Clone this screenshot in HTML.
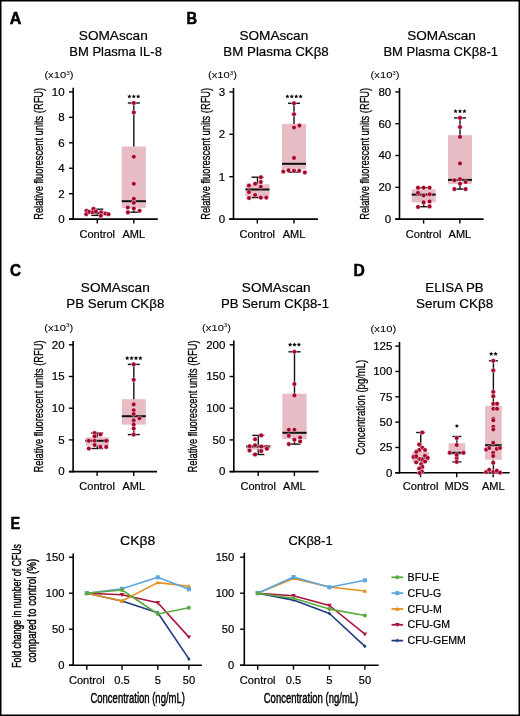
<!DOCTYPE html>
<html><head><meta charset="utf-8"><style>
html,body{margin:0;padding:0;background:#fff;width:520px;height:716px;overflow:hidden}
svg{will-change:transform}
text{font-family:"Liberation Sans", sans-serif;fill:#000;stroke:#000;stroke-width:0.2px}
</style></head><body>
<svg width="520" height="716" viewBox="0 0 520 716" style="display:block" font-family='"Liberation Sans", sans-serif'>
<rect x="0" y="0" width="520" height="716" fill="#fff"/>
<text x="9.8" y="23.5" font-size="15.6" text-anchor="start" style="stroke-width:0.5px" font-weight="bold" textLength="11.6" lengthAdjust="spacingAndGlyphs">A</text>
<text x="186.6" y="23.5" font-size="15.6" text-anchor="start" style="stroke-width:0.5px" font-weight="bold" textLength="10.6" lengthAdjust="spacingAndGlyphs">B</text>
<text x="10.0" y="276.2" font-size="15.6" text-anchor="start" style="stroke-width:0.5px" font-weight="bold" textLength="11.0" lengthAdjust="spacingAndGlyphs">C</text>
<text x="353.4" y="275.8" font-size="15.6" text-anchor="start" style="stroke-width:0.5px" font-weight="bold" textLength="11.3" lengthAdjust="spacingAndGlyphs">D</text>
<text x="10.5" y="528.5" font-size="15.6" text-anchor="start" style="stroke-width:0.5px" font-weight="bold" textLength="9.6" lengthAdjust="spacingAndGlyphs">E</text>
<text x="78.8" y="40.1" font-size="13" text-anchor="start" textLength="69.0" lengthAdjust="spacingAndGlyphs">SOMAscan</text>
<text x="69.3" y="56.1" font-size="13" text-anchor="start" textLength="92.6" lengthAdjust="spacingAndGlyphs">BM Plasma IL-8</text>
<text x="44.4" y="78.2" font-size="9.8" text-anchor="start" style="stroke-width:0.05px" textLength="29.0" lengthAdjust="spacingAndGlyphs">(x10<tspan dy="-3.6" font-size="5.5" style="stroke-width:0">3</tspan><tspan dy="3.6">)</tspan></text>
<text transform="translate(42.9,153.8) rotate(-90)" x="0" y="0" font-size="13" text-anchor="middle" style="stroke-width:0.3px" textLength="132" lengthAdjust="spacingAndGlyphs">Relative fluorescent units (RFU)</text>
<line x1="73.2" y1="87.8" x2="73.2" y2="219.85" stroke="#000" stroke-width="1.6" />
<line x1="69.0" y1="219.1" x2="157.8" y2="219.1" stroke="#000" stroke-width="1.6" />
<line x1="69.0" y1="91.9" x2="73.2" y2="91.9" stroke="#000" stroke-width="1.4" />
<text x="64.6" y="95.7" font-size="11.5" text-anchor="end">10</text>
<line x1="69.0" y1="117.35" x2="73.2" y2="117.35" stroke="#000" stroke-width="1.4" />
<text x="64.6" y="121.14999999999999" font-size="11.5" text-anchor="end">8</text>
<line x1="69.0" y1="142.8" x2="73.2" y2="142.8" stroke="#000" stroke-width="1.4" />
<text x="64.6" y="146.60000000000002" font-size="11.5" text-anchor="end">6</text>
<line x1="69.0" y1="168.25" x2="73.2" y2="168.25" stroke="#000" stroke-width="1.4" />
<text x="64.6" y="172.05" font-size="11.5" text-anchor="end">4</text>
<line x1="69.0" y1="193.7" x2="73.2" y2="193.7" stroke="#000" stroke-width="1.4" />
<text x="64.6" y="197.5" font-size="11.5" text-anchor="end">2</text>
<line x1="69.0" y1="219.1" x2="73.2" y2="219.1" stroke="#000" stroke-width="1.4" />
<text x="64.6" y="222.9" font-size="11.5" text-anchor="end">0</text>
<line x1="97.3" y1="219.1" x2="97.3" y2="223.6" stroke="#000" stroke-width="1.4" />
<text x="97.3" y="237.8" font-size="11" text-anchor="middle">Control</text>
<line x1="133.8" y1="219.1" x2="133.8" y2="223.6" stroke="#000" stroke-width="1.4" />
<text x="133.8" y="237.8" font-size="11" text-anchor="middle">AML</text>
<rect x="91.3" y="211.5" width="12" height="3.0" fill="#e7bcc5"/>
<line x1="97.3" y1="209.2" x2="97.3" y2="211.5" stroke="#111" stroke-width="1.4" />
<line x1="97.3" y1="214.5" x2="97.3" y2="215.4" stroke="#111" stroke-width="1.4" />
<line x1="91.3" y1="209.2" x2="103.3" y2="209.2" stroke="#111" stroke-width="1.4" />
<line x1="91.3" y1="215.4" x2="103.3" y2="215.4" stroke="#111" stroke-width="1.4" />
<line x1="91.3" y1="213.0" x2="103.3" y2="213.0" stroke="#111" stroke-width="2.0" />
<circle cx="86.5" cy="210.8" r="2.3" fill="#a8002a" stroke="#fff" stroke-opacity="0.55" stroke-width="0.8"/>
<circle cx="86.2" cy="214.2" r="2.3" fill="#a8002a" stroke="#fff" stroke-opacity="0.55" stroke-width="0.8"/>
<circle cx="89.2" cy="211.9" r="2.3" fill="#a8002a" stroke="#fff" stroke-opacity="0.55" stroke-width="0.8"/>
<circle cx="93.5" cy="208.8" r="2.3" fill="#a8002a" stroke="#fff" stroke-opacity="0.55" stroke-width="0.8"/>
<circle cx="92.7" cy="212.3" r="2.3" fill="#a8002a" stroke="#fff" stroke-opacity="0.55" stroke-width="0.8"/>
<circle cx="95.8" cy="211.5" r="2.3" fill="#a8002a" stroke="#fff" stroke-opacity="0.55" stroke-width="0.8"/>
<circle cx="101.2" cy="212.3" r="2.3" fill="#a8002a" stroke="#fff" stroke-opacity="0.55" stroke-width="0.8"/>
<circle cx="100.8" cy="215.8" r="2.3" fill="#a8002a" stroke="#fff" stroke-opacity="0.55" stroke-width="0.8"/>
<circle cx="105.4" cy="213.5" r="2.3" fill="#a8002a" stroke="#fff" stroke-opacity="0.55" stroke-width="0.8"/>
<circle cx="108.5" cy="214.2" r="2.3" fill="#a8002a" stroke="#fff" stroke-opacity="0.55" stroke-width="0.8"/>
<rect x="121.70000000000002" y="146.5" width="24.2" height="61.400000000000006" fill="#e7bcc5"/>
<line x1="133.8" y1="103.0" x2="133.8" y2="146.5" stroke="#111" stroke-width="1.4" />
<line x1="133.8" y1="207.9" x2="133.8" y2="212.2" stroke="#111" stroke-width="1.4" />
<line x1="127.80000000000001" y1="103.0" x2="139.8" y2="103.0" stroke="#111" stroke-width="1.4" />
<line x1="127.80000000000001" y1="212.2" x2="139.8" y2="212.2" stroke="#111" stroke-width="1.4" />
<line x1="121.70000000000002" y1="201.2" x2="145.9" y2="201.2" stroke="#111" stroke-width="2.0" />
<circle cx="133.8" cy="103" r="2.3" fill="#a8002a" stroke="#fff" stroke-opacity="0.55" stroke-width="0.8"/>
<circle cx="133.8" cy="112.4" r="2.3" fill="#a8002a" stroke="#fff" stroke-opacity="0.55" stroke-width="0.8"/>
<circle cx="133.8" cy="156.7" r="2.3" fill="#a8002a" stroke="#fff" stroke-opacity="0.55" stroke-width="0.8"/>
<circle cx="133.8" cy="183.8" r="2.3" fill="#a8002a" stroke="#fff" stroke-opacity="0.55" stroke-width="0.8"/>
<circle cx="133.8" cy="198.8" r="2.3" fill="#a8002a" stroke="#fff" stroke-opacity="0.55" stroke-width="0.8"/>
<circle cx="133.8" cy="202.8" r="2.3" fill="#a8002a" stroke="#fff" stroke-opacity="0.55" stroke-width="0.8"/>
<circle cx="127.8" cy="207.5" r="2.3" fill="#a8002a" stroke="#fff" stroke-opacity="0.55" stroke-width="0.8"/>
<circle cx="133.8" cy="208.5" r="2.3" fill="#a8002a" stroke="#fff" stroke-opacity="0.55" stroke-width="0.8"/>
<circle cx="139.6" cy="210.7" r="2.3" fill="#a8002a" stroke="#fff" stroke-opacity="0.55" stroke-width="0.8"/>
<circle cx="127.9" cy="212.4" r="2.3" fill="#a8002a" stroke="#fff" stroke-opacity="0.55" stroke-width="0.8"/>
<polygon points="129.40,94.20 130.02,95.65 131.59,95.79 130.40,96.82 130.75,98.36 129.40,97.55 128.05,98.36 128.40,96.82 127.21,95.79 128.78,95.65" fill="#000"/>
<polygon points="133.80,94.20 134.42,95.65 135.99,95.79 134.80,96.82 135.15,98.36 133.80,97.55 132.45,98.36 132.80,96.82 131.61,95.79 133.18,95.65" fill="#000"/>
<polygon points="138.20,94.20 138.82,95.65 140.39,95.79 139.20,96.82 139.55,98.36 138.20,97.55 136.85,98.36 137.20,96.82 136.01,95.79 137.58,95.65" fill="#000"/>
<text x="239.45" y="40.0" font-size="13" text-anchor="start" textLength="68.8" lengthAdjust="spacingAndGlyphs">SOMAscan</text>
<text x="223.3" y="56.1" font-size="13" text-anchor="start" textLength="105.5" lengthAdjust="spacingAndGlyphs">BM Plasma CKβ8</text>
<text x="208.0" y="78.2" font-size="9.8" text-anchor="start" style="stroke-width:0.05px" textLength="29.0" lengthAdjust="spacingAndGlyphs">(x10<tspan dy="-3.6" font-size="5.5" style="stroke-width:0">3</tspan><tspan dy="3.6">)</tspan></text>
<text transform="translate(209.9,153.8) rotate(-90)" x="0" y="0" font-size="13" text-anchor="middle" style="stroke-width:0.3px" textLength="132" lengthAdjust="spacingAndGlyphs">Relative fluorescent units (RFU)</text>
<line x1="233.5" y1="87.9" x2="233.5" y2="219.85" stroke="#000" stroke-width="1.6" />
<line x1="229.3" y1="219.1" x2="317.9" y2="219.1" stroke="#000" stroke-width="1.6" />
<line x1="229.3" y1="91.9" x2="233.5" y2="91.9" stroke="#000" stroke-width="1.4" />
<text x="225.2" y="95.7" font-size="11.5" text-anchor="end">3</text>
<line x1="229.3" y1="134.3" x2="233.5" y2="134.3" stroke="#000" stroke-width="1.4" />
<text x="225.2" y="138.10000000000002" font-size="11.5" text-anchor="end">2</text>
<line x1="229.3" y1="176.7" x2="233.5" y2="176.7" stroke="#000" stroke-width="1.4" />
<text x="225.2" y="180.5" font-size="11.5" text-anchor="end">1</text>
<line x1="229.3" y1="219.1" x2="233.5" y2="219.1" stroke="#000" stroke-width="1.4" />
<text x="225.2" y="222.9" font-size="11.5" text-anchor="end">0</text>
<line x1="257.3" y1="219.1" x2="257.3" y2="223.6" stroke="#000" stroke-width="1.4" />
<text x="257.3" y="237.6" font-size="11" text-anchor="middle">Control</text>
<line x1="294.0" y1="219.1" x2="294.0" y2="223.6" stroke="#000" stroke-width="1.4" />
<text x="294.0" y="237.6" font-size="11" text-anchor="middle">AML</text>
<rect x="245.5" y="184.3" width="24" height="12.399999999999977" fill="#e7bcc5"/>
<line x1="257.5" y1="177.2" x2="257.5" y2="184.3" stroke="#111" stroke-width="1.4" />
<line x1="257.5" y1="196.7" x2="257.5" y2="197.6" stroke="#111" stroke-width="1.4" />
<line x1="251.5" y1="177.2" x2="263.5" y2="177.2" stroke="#111" stroke-width="1.4" />
<line x1="251.5" y1="197.6" x2="263.5" y2="197.6" stroke="#111" stroke-width="1.4" />
<line x1="245.5" y1="189.5" x2="269.5" y2="189.5" stroke="#111" stroke-width="2.0" />
<circle cx="260.8" cy="177.2" r="2.3" fill="#a8002a" stroke="#fff" stroke-opacity="0.55" stroke-width="0.8"/>
<circle cx="255.1" cy="183.7" r="2.3" fill="#a8002a" stroke="#fff" stroke-opacity="0.55" stroke-width="0.8"/>
<circle cx="260.8" cy="182" r="2.3" fill="#a8002a" stroke="#fff" stroke-opacity="0.55" stroke-width="0.8"/>
<circle cx="249" cy="185.5" r="2.3" fill="#a8002a" stroke="#fff" stroke-opacity="0.55" stroke-width="0.8"/>
<circle cx="260.8" cy="186.7" r="2.3" fill="#a8002a" stroke="#fff" stroke-opacity="0.55" stroke-width="0.8"/>
<circle cx="249" cy="192" r="2.3" fill="#a8002a" stroke="#fff" stroke-opacity="0.55" stroke-width="0.8"/>
<circle cx="255.1" cy="195" r="2.3" fill="#a8002a" stroke="#fff" stroke-opacity="0.55" stroke-width="0.8"/>
<circle cx="249" cy="198" r="2.3" fill="#a8002a" stroke="#fff" stroke-opacity="0.55" stroke-width="0.8"/>
<circle cx="260.8" cy="197.6" r="2.3" fill="#a8002a" stroke="#fff" stroke-opacity="0.55" stroke-width="0.8"/>
<circle cx="266.3" cy="197.6" r="2.3" fill="#a8002a" stroke="#fff" stroke-opacity="0.55" stroke-width="0.8"/>
<rect x="282.0" y="123.9" width="24" height="45.099999999999994" fill="#e7bcc5"/>
<line x1="294.0" y1="103.3" x2="294.0" y2="123.9" stroke="#111" stroke-width="1.4" />
<line x1="294.0" y1="169.0" x2="294.0" y2="172.2" stroke="#111" stroke-width="1.4" />
<line x1="288.0" y1="103.3" x2="300.0" y2="103.3" stroke="#111" stroke-width="1.4" />
<line x1="288.0" y1="172.2" x2="300.0" y2="172.2" stroke="#111" stroke-width="1.4" />
<line x1="282.0" y1="163.8" x2="306.0" y2="163.8" stroke="#111" stroke-width="2.0" />
<circle cx="294" cy="103.3" r="2.3" fill="#a8002a" stroke="#fff" stroke-opacity="0.55" stroke-width="0.8"/>
<circle cx="294" cy="114.2" r="2.3" fill="#a8002a" stroke="#fff" stroke-opacity="0.55" stroke-width="0.8"/>
<circle cx="294" cy="127.5" r="2.3" fill="#a8002a" stroke="#fff" stroke-opacity="0.55" stroke-width="0.8"/>
<circle cx="299.4" cy="125.6" r="2.3" fill="#a8002a" stroke="#fff" stroke-opacity="0.55" stroke-width="0.8"/>
<circle cx="294" cy="157.9" r="2.3" fill="#a8002a" stroke="#fff" stroke-opacity="0.55" stroke-width="0.8"/>
<circle cx="283.3" cy="171.6" r="2.3" fill="#a8002a" stroke="#fff" stroke-opacity="0.55" stroke-width="0.8"/>
<circle cx="288.5" cy="170.2" r="2.3" fill="#a8002a" stroke="#fff" stroke-opacity="0.55" stroke-width="0.8"/>
<circle cx="294" cy="170.8" r="2.3" fill="#a8002a" stroke="#fff" stroke-opacity="0.55" stroke-width="0.8"/>
<circle cx="299.2" cy="170.8" r="2.3" fill="#a8002a" stroke="#fff" stroke-opacity="0.55" stroke-width="0.8"/>
<circle cx="304.8" cy="172.5" r="2.3" fill="#a8002a" stroke="#fff" stroke-opacity="0.55" stroke-width="0.8"/>
<polygon points="287.40,94.20 288.02,95.65 289.59,95.79 288.40,96.82 288.75,98.36 287.40,97.55 286.05,98.36 286.40,96.82 285.21,95.79 286.78,95.65" fill="#000"/>
<polygon points="291.80,94.20 292.42,95.65 293.99,95.79 292.80,96.82 293.15,98.36 291.80,97.55 290.45,98.36 290.80,96.82 289.61,95.79 291.18,95.65" fill="#000"/>
<polygon points="296.20,94.20 296.82,95.65 298.39,95.79 297.20,96.82 297.55,98.36 296.20,97.55 294.85,98.36 295.20,96.82 294.01,95.79 295.58,95.65" fill="#000"/>
<polygon points="300.60,94.20 301.22,95.65 302.79,95.79 301.60,96.82 301.95,98.36 300.60,97.55 299.25,98.36 299.60,96.82 298.41,95.79 299.98,95.65" fill="#000"/>
<text x="407.25" y="40.0" font-size="13" text-anchor="start" textLength="68.6" lengthAdjust="spacingAndGlyphs">SOMAscan</text>
<text x="383.4" y="56.1" font-size="13" text-anchor="start" textLength="114.6" lengthAdjust="spacingAndGlyphs">BM Plasma CKβ8-1</text>
<text x="370.59999999999997" y="78.2" font-size="9.8" text-anchor="start" style="stroke-width:0.05px" textLength="29.0" lengthAdjust="spacingAndGlyphs">(x10<tspan dy="-3.6" font-size="5.5" style="stroke-width:0">3</tspan><tspan dy="3.6">)</tspan></text>
<text transform="translate(369.1,153.8) rotate(-90)" x="0" y="0" font-size="13" text-anchor="middle" style="stroke-width:0.3px" textLength="132" lengthAdjust="spacingAndGlyphs">Relative fluorescent units (RFU)</text>
<line x1="399.5" y1="87.9" x2="399.5" y2="219.85" stroke="#000" stroke-width="1.6" />
<line x1="395.3" y1="219.1" x2="483.6" y2="219.1" stroke="#000" stroke-width="1.6" />
<line x1="395.3" y1="91.9" x2="399.5" y2="91.9" stroke="#000" stroke-width="1.4" />
<text x="391.2" y="95.7" font-size="11.5" text-anchor="end">80</text>
<line x1="395.3" y1="123.7" x2="399.5" y2="123.7" stroke="#000" stroke-width="1.4" />
<text x="391.2" y="127.5" font-size="11.5" text-anchor="end">60</text>
<line x1="395.3" y1="155.5" x2="399.5" y2="155.5" stroke="#000" stroke-width="1.4" />
<text x="391.2" y="159.3" font-size="11.5" text-anchor="end">40</text>
<line x1="395.3" y1="187.3" x2="399.5" y2="187.3" stroke="#000" stroke-width="1.4" />
<text x="391.2" y="191.10000000000002" font-size="11.5" text-anchor="end">20</text>
<line x1="395.3" y1="219.1" x2="399.5" y2="219.1" stroke="#000" stroke-width="1.4" />
<text x="391.2" y="222.9" font-size="11.5" text-anchor="end">0</text>
<line x1="423.6" y1="219.1" x2="423.6" y2="223.6" stroke="#000" stroke-width="1.4" />
<text x="423.6" y="237.5" font-size="11" text-anchor="middle">Control</text>
<line x1="459.9" y1="219.1" x2="459.9" y2="223.6" stroke="#000" stroke-width="1.4" />
<text x="459.9" y="237.5" font-size="11" text-anchor="middle">AML</text>
<rect x="411.7" y="189.4" width="24" height="13.0" fill="#e7bcc5"/>
<line x1="423.7" y1="187.7" x2="423.7" y2="189.4" stroke="#111" stroke-width="1.4" />
<line x1="423.7" y1="202.4" x2="423.7" y2="206.7" stroke="#111" stroke-width="1.4" />
<line x1="417.7" y1="187.7" x2="429.7" y2="187.7" stroke="#111" stroke-width="1.4" />
<line x1="417.7" y1="206.7" x2="429.7" y2="206.7" stroke="#111" stroke-width="1.4" />
<line x1="411.7" y1="194.6" x2="435.7" y2="194.6" stroke="#111" stroke-width="2.0" />
<circle cx="418" cy="187.7" r="2.3" fill="#a8002a" stroke="#fff" stroke-opacity="0.55" stroke-width="0.8"/>
<circle cx="423.6" cy="187.7" r="2.3" fill="#a8002a" stroke="#fff" stroke-opacity="0.55" stroke-width="0.8"/>
<circle cx="429.6" cy="187.7" r="2.3" fill="#a8002a" stroke="#fff" stroke-opacity="0.55" stroke-width="0.8"/>
<circle cx="418" cy="192.9" r="2.3" fill="#a8002a" stroke="#fff" stroke-opacity="0.55" stroke-width="0.8"/>
<circle cx="423.6" cy="195.5" r="2.3" fill="#a8002a" stroke="#fff" stroke-opacity="0.55" stroke-width="0.8"/>
<circle cx="429.6" cy="194.3" r="2.3" fill="#a8002a" stroke="#fff" stroke-opacity="0.55" stroke-width="0.8"/>
<circle cx="423.6" cy="202.4" r="2.3" fill="#a8002a" stroke="#fff" stroke-opacity="0.55" stroke-width="0.8"/>
<circle cx="429.6" cy="201.5" r="2.3" fill="#a8002a" stroke="#fff" stroke-opacity="0.55" stroke-width="0.8"/>
<circle cx="418" cy="207" r="2.3" fill="#a8002a" stroke="#fff" stroke-opacity="0.55" stroke-width="0.8"/>
<circle cx="429.6" cy="206.4" r="2.3" fill="#a8002a" stroke="#fff" stroke-opacity="0.55" stroke-width="0.8"/>
<rect x="448.0" y="135.2" width="24" height="48.70000000000002" fill="#e7bcc5"/>
<line x1="460.0" y1="117.9" x2="460.0" y2="135.2" stroke="#111" stroke-width="1.4" />
<line x1="460.0" y1="183.9" x2="460.0" y2="189.1" stroke="#111" stroke-width="1.4" />
<line x1="454.0" y1="117.9" x2="466.0" y2="117.9" stroke="#111" stroke-width="1.4" />
<line x1="454.0" y1="189.1" x2="466.0" y2="189.1" stroke="#111" stroke-width="1.4" />
<line x1="448.0" y1="179.9" x2="472.0" y2="179.9" stroke="#111" stroke-width="2.0" />
<circle cx="460" cy="117.9" r="2.3" fill="#a8002a" stroke="#fff" stroke-opacity="0.55" stroke-width="0.8"/>
<circle cx="460" cy="127" r="2.3" fill="#a8002a" stroke="#fff" stroke-opacity="0.55" stroke-width="0.8"/>
<circle cx="460" cy="136.9" r="2.3" fill="#a8002a" stroke="#fff" stroke-opacity="0.55" stroke-width="0.8"/>
<circle cx="460" cy="163.4" r="2.3" fill="#a8002a" stroke="#fff" stroke-opacity="0.55" stroke-width="0.8"/>
<circle cx="454.4" cy="180.2" r="2.3" fill="#a8002a" stroke="#fff" stroke-opacity="0.55" stroke-width="0.8"/>
<circle cx="460" cy="179" r="2.3" fill="#a8002a" stroke="#fff" stroke-opacity="0.55" stroke-width="0.8"/>
<circle cx="465.6" cy="182" r="2.3" fill="#a8002a" stroke="#fff" stroke-opacity="0.55" stroke-width="0.8"/>
<circle cx="460" cy="183.7" r="2.3" fill="#a8002a" stroke="#fff" stroke-opacity="0.55" stroke-width="0.8"/>
<circle cx="454.4" cy="189.1" r="2.3" fill="#a8002a" stroke="#fff" stroke-opacity="0.55" stroke-width="0.8"/>
<circle cx="465.6" cy="189.1" r="2.3" fill="#a8002a" stroke="#fff" stroke-opacity="0.55" stroke-width="0.8"/>
<polygon points="455.60,109.00 456.22,110.45 457.79,110.59 456.60,111.62 456.95,113.16 455.60,112.35 454.25,113.16 454.60,111.62 453.41,110.59 454.98,110.45" fill="#000"/>
<polygon points="460.00,109.00 460.62,110.45 462.19,110.59 461.00,111.62 461.35,113.16 460.00,112.35 458.65,113.16 459.00,111.62 457.81,110.59 459.38,110.45" fill="#000"/>
<polygon points="464.40,109.00 465.02,110.45 466.59,110.59 465.40,111.62 465.75,113.16 464.40,112.35 463.05,113.16 463.40,111.62 462.21,110.59 463.78,110.45" fill="#000"/>
<text x="80.85" y="292.2" font-size="13" text-anchor="start" textLength="68.9" lengthAdjust="spacingAndGlyphs">SOMAscan</text>
<text x="66.3" y="308.3" font-size="13" text-anchor="start" textLength="98.0" lengthAdjust="spacingAndGlyphs">PB Serum CKβ8</text>
<text x="44.199999999999996" y="331.0" font-size="9.8" text-anchor="start" style="stroke-width:0.05px" textLength="29.0" lengthAdjust="spacingAndGlyphs">(x10<tspan dy="-3.6" font-size="5.5" style="stroke-width:0">3</tspan><tspan dy="3.6">)</tspan></text>
<text transform="translate(42.9,406.5) rotate(-90)" x="0" y="0" font-size="13" text-anchor="middle" style="stroke-width:0.3px" textLength="132" lengthAdjust="spacingAndGlyphs">Relative fluorescent units (RFU)</text>
<line x1="73.1" y1="341.0" x2="73.1" y2="472.35" stroke="#000" stroke-width="1.6" />
<line x1="68.89999999999999" y1="471.6" x2="157.0" y2="471.6" stroke="#000" stroke-width="1.6" />
<line x1="68.89999999999999" y1="344.8" x2="73.1" y2="344.8" stroke="#000" stroke-width="1.4" />
<text x="64.6" y="348.6" font-size="11.5" text-anchor="end">20</text>
<line x1="68.89999999999999" y1="376.5" x2="73.1" y2="376.5" stroke="#000" stroke-width="1.4" />
<text x="64.6" y="380.3" font-size="11.5" text-anchor="end">15</text>
<line x1="68.89999999999999" y1="408.2" x2="73.1" y2="408.2" stroke="#000" stroke-width="1.4" />
<text x="64.6" y="412.0" font-size="11.5" text-anchor="end">10</text>
<line x1="68.89999999999999" y1="439.9" x2="73.1" y2="439.9" stroke="#000" stroke-width="1.4" />
<text x="64.6" y="443.7" font-size="11.5" text-anchor="end">5</text>
<line x1="68.89999999999999" y1="471.6" x2="73.1" y2="471.6" stroke="#000" stroke-width="1.4" />
<text x="64.6" y="475.40000000000003" font-size="11.5" text-anchor="end">0</text>
<line x1="97.1" y1="471.6" x2="97.1" y2="476.1" stroke="#000" stroke-width="1.4" />
<text x="97.1" y="489.8" font-size="11" text-anchor="middle">Control</text>
<line x1="133.7" y1="471.6" x2="133.7" y2="476.1" stroke="#000" stroke-width="1.4" />
<text x="133.7" y="489.8" font-size="11" text-anchor="middle">AML</text>
<rect x="85.45" y="437.3" width="23.5" height="8.300000000000011" fill="#e7bcc5"/>
<line x1="97.2" y1="433.1" x2="97.2" y2="437.3" stroke="#111" stroke-width="1.4" />
<line x1="97.2" y1="445.6" x2="97.2" y2="448.5" stroke="#111" stroke-width="1.4" />
<line x1="91.2" y1="433.1" x2="103.2" y2="433.1" stroke="#111" stroke-width="1.4" />
<line x1="91.2" y1="448.5" x2="103.2" y2="448.5" stroke="#111" stroke-width="1.4" />
<line x1="85.45" y1="440.8" x2="108.95" y2="440.8" stroke="#111" stroke-width="2.0" />
<circle cx="94.6" cy="433.1" r="2.3" fill="#a8002a" stroke="#fff" stroke-opacity="0.55" stroke-width="0.8"/>
<circle cx="94.6" cy="436.3" r="2.3" fill="#a8002a" stroke="#fff" stroke-opacity="0.55" stroke-width="0.8"/>
<circle cx="100.4" cy="434.4" r="2.3" fill="#a8002a" stroke="#fff" stroke-opacity="0.55" stroke-width="0.8"/>
<circle cx="88.8" cy="440.8" r="2.3" fill="#a8002a" stroke="#fff" stroke-opacity="0.55" stroke-width="0.8"/>
<circle cx="94.6" cy="440.8" r="2.3" fill="#a8002a" stroke="#fff" stroke-opacity="0.55" stroke-width="0.8"/>
<circle cx="106.2" cy="440.8" r="2.3" fill="#a8002a" stroke="#fff" stroke-opacity="0.55" stroke-width="0.8"/>
<circle cx="94.6" cy="445" r="2.3" fill="#a8002a" stroke="#fff" stroke-opacity="0.55" stroke-width="0.8"/>
<circle cx="100.4" cy="446.9" r="2.3" fill="#a8002a" stroke="#fff" stroke-opacity="0.55" stroke-width="0.8"/>
<circle cx="88.8" cy="448.5" r="2.3" fill="#a8002a" stroke="#fff" stroke-opacity="0.55" stroke-width="0.8"/>
<circle cx="106.2" cy="446.9" r="2.3" fill="#a8002a" stroke="#fff" stroke-opacity="0.55" stroke-width="0.8"/>
<rect x="121.80000000000001" y="399.2" width="24" height="25.400000000000034" fill="#e7bcc5"/>
<line x1="133.8" y1="364.4" x2="133.8" y2="399.2" stroke="#111" stroke-width="1.4" />
<line x1="133.8" y1="424.6" x2="133.8" y2="434.6" stroke="#111" stroke-width="1.4" />
<line x1="127.80000000000001" y1="364.4" x2="139.8" y2="364.4" stroke="#111" stroke-width="1.4" />
<line x1="127.80000000000001" y1="434.6" x2="139.8" y2="434.6" stroke="#111" stroke-width="1.4" />
<line x1="121.80000000000001" y1="416.2" x2="145.8" y2="416.2" stroke="#111" stroke-width="2.0" />
<circle cx="133.7" cy="364.4" r="2.3" fill="#a8002a" stroke="#fff" stroke-opacity="0.55" stroke-width="0.8"/>
<circle cx="133.7" cy="379.8" r="2.3" fill="#a8002a" stroke="#fff" stroke-opacity="0.55" stroke-width="0.8"/>
<circle cx="133.7" cy="404.4" r="2.3" fill="#a8002a" stroke="#fff" stroke-opacity="0.55" stroke-width="0.8"/>
<circle cx="133.7" cy="410.2" r="2.3" fill="#a8002a" stroke="#fff" stroke-opacity="0.55" stroke-width="0.8"/>
<circle cx="133.7" cy="414" r="2.3" fill="#a8002a" stroke="#fff" stroke-opacity="0.55" stroke-width="0.8"/>
<circle cx="133.7" cy="420.4" r="2.3" fill="#a8002a" stroke="#fff" stroke-opacity="0.55" stroke-width="0.8"/>
<circle cx="139.4" cy="418.3" r="2.3" fill="#a8002a" stroke="#fff" stroke-opacity="0.55" stroke-width="0.8"/>
<circle cx="133.7" cy="424.6" r="2.3" fill="#a8002a" stroke="#fff" stroke-opacity="0.55" stroke-width="0.8"/>
<circle cx="133.7" cy="428.5" r="2.3" fill="#a8002a" stroke="#fff" stroke-opacity="0.55" stroke-width="0.8"/>
<circle cx="133.7" cy="434.6" r="2.3" fill="#a8002a" stroke="#fff" stroke-opacity="0.55" stroke-width="0.8"/>
<polygon points="127.20,355.90 127.82,357.35 129.39,357.49 128.20,358.52 128.55,360.06 127.20,359.25 125.85,360.06 126.20,358.52 125.01,357.49 126.58,357.35" fill="#000"/>
<polygon points="131.60,355.90 132.22,357.35 133.79,357.49 132.60,358.52 132.95,360.06 131.60,359.25 130.25,360.06 130.60,358.52 129.41,357.49 130.98,357.35" fill="#000"/>
<polygon points="136.00,355.90 136.62,357.35 138.19,357.49 137.00,358.52 137.35,360.06 136.00,359.25 134.65,360.06 135.00,358.52 133.81,357.49 135.38,357.35" fill="#000"/>
<polygon points="140.40,355.90 141.02,357.35 142.59,357.49 141.40,358.52 141.75,360.06 140.40,359.25 139.05,360.06 139.40,358.52 138.21,357.49 139.78,357.35" fill="#000"/>
<text x="241.85" y="292.2" font-size="13" text-anchor="start" textLength="68.7" lengthAdjust="spacingAndGlyphs">SOMAscan</text>
<text x="221.0" y="308.3" font-size="13" text-anchor="start" textLength="108.0" lengthAdjust="spacingAndGlyphs">PB Serum CKβ8-1</text>
<text x="202.1" y="330.5" font-size="9.8" text-anchor="start" style="stroke-width:0.05px" textLength="29.0" lengthAdjust="spacingAndGlyphs">(x10<tspan dy="-3.6" font-size="5.5" style="stroke-width:0">3</tspan><tspan dy="3.6">)</tspan></text>
<text transform="translate(197.2,406.5) rotate(-90)" x="0" y="0" font-size="13" text-anchor="middle" style="stroke-width:0.3px" textLength="132" lengthAdjust="spacingAndGlyphs">Relative fluorescent units (RFU)</text>
<line x1="233.8" y1="340.6" x2="233.8" y2="472.35" stroke="#000" stroke-width="1.6" />
<line x1="229.60000000000002" y1="471.6" x2="318.6" y2="471.6" stroke="#000" stroke-width="1.6" />
<line x1="229.60000000000002" y1="344.8" x2="233.8" y2="344.8" stroke="#000" stroke-width="1.4" />
<text x="225.4" y="348.6" font-size="11.5" text-anchor="end">200</text>
<line x1="229.60000000000002" y1="376.5" x2="233.8" y2="376.5" stroke="#000" stroke-width="1.4" />
<text x="225.4" y="380.3" font-size="11.5" text-anchor="end">150</text>
<line x1="229.60000000000002" y1="408.2" x2="233.8" y2="408.2" stroke="#000" stroke-width="1.4" />
<text x="225.4" y="412.0" font-size="11.5" text-anchor="end">100</text>
<line x1="229.60000000000002" y1="439.9" x2="233.8" y2="439.9" stroke="#000" stroke-width="1.4" />
<text x="225.4" y="443.7" font-size="11.5" text-anchor="end">50</text>
<line x1="229.60000000000002" y1="471.6" x2="233.8" y2="471.6" stroke="#000" stroke-width="1.4" />
<text x="225.4" y="475.40000000000003" font-size="11.5" text-anchor="end">0</text>
<line x1="258.2" y1="471.6" x2="258.2" y2="476.1" stroke="#000" stroke-width="1.4" />
<text x="258.2" y="490.2" font-size="11" text-anchor="middle">Control</text>
<line x1="294.4" y1="471.6" x2="294.4" y2="476.1" stroke="#000" stroke-width="1.4" />
<text x="294.4" y="490.2" font-size="11" text-anchor="middle">AML</text>
<rect x="246.3" y="444.8" width="24" height="4.800000000000011" fill="#e7bcc5"/>
<line x1="258.3" y1="435.4" x2="258.3" y2="444.8" stroke="#111" stroke-width="1.4" />
<line x1="258.3" y1="449.6" x2="258.3" y2="454.5" stroke="#111" stroke-width="1.4" />
<line x1="252.3" y1="435.4" x2="264.3" y2="435.4" stroke="#111" stroke-width="1.4" />
<line x1="252.3" y1="454.5" x2="264.3" y2="454.5" stroke="#111" stroke-width="1.4" />
<line x1="246.3" y1="446.5" x2="270.3" y2="446.5" stroke="#111" stroke-width="2.0" />
<circle cx="261.2" cy="435.4" r="2.3" fill="#a8002a" stroke="#fff" stroke-opacity="0.55" stroke-width="0.8"/>
<circle cx="255.1" cy="439.2" r="2.3" fill="#a8002a" stroke="#fff" stroke-opacity="0.55" stroke-width="0.8"/>
<circle cx="249.6" cy="446.2" r="2.3" fill="#a8002a" stroke="#fff" stroke-opacity="0.55" stroke-width="0.8"/>
<circle cx="255.1" cy="445.3" r="2.3" fill="#a8002a" stroke="#fff" stroke-opacity="0.55" stroke-width="0.8"/>
<circle cx="261.2" cy="446.5" r="2.3" fill="#a8002a" stroke="#fff" stroke-opacity="0.55" stroke-width="0.8"/>
<circle cx="266.9" cy="447" r="2.3" fill="#a8002a" stroke="#fff" stroke-opacity="0.55" stroke-width="0.8"/>
<circle cx="249.6" cy="450.5" r="2.3" fill="#a8002a" stroke="#fff" stroke-opacity="0.55" stroke-width="0.8"/>
<circle cx="261.2" cy="451" r="2.3" fill="#a8002a" stroke="#fff" stroke-opacity="0.55" stroke-width="0.8"/>
<circle cx="266.9" cy="448.7" r="2.3" fill="#a8002a" stroke="#fff" stroke-opacity="0.55" stroke-width="0.8"/>
<circle cx="255.1" cy="454.5" r="2.3" fill="#a8002a" stroke="#fff" stroke-opacity="0.55" stroke-width="0.8"/>
<rect x="282.35" y="393.7" width="24.3" height="45.5" fill="#e7bcc5"/>
<line x1="294.5" y1="351.8" x2="294.5" y2="393.7" stroke="#111" stroke-width="1.4" />
<line x1="294.5" y1="439.2" x2="294.5" y2="444.1" stroke="#111" stroke-width="1.4" />
<line x1="288.5" y1="351.8" x2="300.5" y2="351.8" stroke="#111" stroke-width="1.4" />
<line x1="288.5" y1="444.1" x2="300.5" y2="444.1" stroke="#111" stroke-width="1.4" />
<line x1="282.35" y1="432.8" x2="306.65" y2="432.8" stroke="#111" stroke-width="2.0" />
<circle cx="294.4" cy="351.8" r="2.3" fill="#a8002a" stroke="#fff" stroke-opacity="0.55" stroke-width="0.8"/>
<circle cx="294.4" cy="384.1" r="2.3" fill="#a8002a" stroke="#fff" stroke-opacity="0.55" stroke-width="0.8"/>
<circle cx="294.4" cy="395.4" r="2.3" fill="#a8002a" stroke="#fff" stroke-opacity="0.55" stroke-width="0.8"/>
<circle cx="288.8" cy="429.7" r="2.3" fill="#a8002a" stroke="#fff" stroke-opacity="0.55" stroke-width="0.8"/>
<circle cx="294.4" cy="429.7" r="2.3" fill="#a8002a" stroke="#fff" stroke-opacity="0.55" stroke-width="0.8"/>
<circle cx="288.8" cy="435.8" r="2.3" fill="#a8002a" stroke="#fff" stroke-opacity="0.55" stroke-width="0.8"/>
<circle cx="294.4" cy="439.7" r="2.3" fill="#a8002a" stroke="#fff" stroke-opacity="0.55" stroke-width="0.8"/>
<circle cx="300.1" cy="437.5" r="2.3" fill="#a8002a" stroke="#fff" stroke-opacity="0.55" stroke-width="0.8"/>
<circle cx="300.1" cy="441.5" r="2.3" fill="#a8002a" stroke="#fff" stroke-opacity="0.55" stroke-width="0.8"/>
<circle cx="288.8" cy="444.1" r="2.3" fill="#a8002a" stroke="#fff" stroke-opacity="0.55" stroke-width="0.8"/>
<polygon points="290.10,342.40 290.72,343.85 292.29,343.99 291.10,345.02 291.45,346.56 290.10,345.75 288.75,346.56 289.10,345.02 287.91,343.99 289.48,343.85" fill="#000"/>
<polygon points="294.50,342.40 295.12,343.85 296.69,343.99 295.50,345.02 295.85,346.56 294.50,345.75 293.15,346.56 293.50,345.02 292.31,343.99 293.88,343.85" fill="#000"/>
<polygon points="298.90,342.40 299.52,343.85 301.09,343.99 299.90,345.02 300.25,346.56 298.90,345.75 297.55,346.56 297.90,345.02 296.71,343.99 298.28,343.85" fill="#000"/>
<text x="425.3" y="292.1" font-size="13" text-anchor="start" textLength="58.4" lengthAdjust="spacingAndGlyphs">ELISA PB</text>
<text x="416.1" y="308.2" font-size="13" text-anchor="start" textLength="77.1" lengthAdjust="spacingAndGlyphs">Serum CKβ8</text>
<text x="370.59999999999997" y="331.8" font-size="9.8" text-anchor="start" style="stroke-width:0.05px" textLength="25.6" lengthAdjust="spacingAndGlyphs">(x10)</text>
<text transform="translate(364.6,407.2) rotate(-90)" x="0" y="0" font-size="13" text-anchor="middle" style="stroke-width:0.3px" textLength="95" lengthAdjust="spacingAndGlyphs">Concentration (pg/mL)</text>
<line x1="399.5" y1="341.9" x2="399.5" y2="473.55" stroke="#000" stroke-width="1.6" />
<line x1="395.3" y1="472.8" x2="509.7" y2="472.8" stroke="#000" stroke-width="1.6" />
<line x1="395.3" y1="346.1" x2="399.5" y2="346.1" stroke="#000" stroke-width="1.4" />
<text x="392.4" y="349.90000000000003" font-size="11.5" text-anchor="end">125</text>
<line x1="395.3" y1="371.45" x2="399.5" y2="371.45" stroke="#000" stroke-width="1.4" />
<text x="392.4" y="375.25" font-size="11.5" text-anchor="end">100</text>
<line x1="395.3" y1="396.8" x2="399.5" y2="396.8" stroke="#000" stroke-width="1.4" />
<text x="392.4" y="400.6" font-size="11.5" text-anchor="end">75</text>
<line x1="395.3" y1="422.1" x2="399.5" y2="422.1" stroke="#000" stroke-width="1.4" />
<text x="392.4" y="425.90000000000003" font-size="11.5" text-anchor="end">50</text>
<line x1="395.3" y1="447.45" x2="399.5" y2="447.45" stroke="#000" stroke-width="1.4" />
<text x="392.4" y="451.25" font-size="11.5" text-anchor="end">25</text>
<line x1="395.3" y1="472.8" x2="399.5" y2="472.8" stroke="#000" stroke-width="1.4" />
<text x="392.4" y="476.6" font-size="11.5" text-anchor="end">0</text>
<line x1="420.6" y1="472.8" x2="420.6" y2="477.3" stroke="#000" stroke-width="1.4" />
<text x="420.6" y="489.9" font-size="11" text-anchor="middle">Control</text>
<line x1="456.7" y1="472.8" x2="456.7" y2="477.3" stroke="#000" stroke-width="1.4" />
<text x="456.7" y="489.9" font-size="11" text-anchor="middle">MDS</text>
<line x1="493.2" y1="472.8" x2="493.2" y2="477.3" stroke="#000" stroke-width="1.4" />
<text x="493.2" y="489.9" font-size="11" text-anchor="middle">AML</text>
<rect x="412.3" y="451.8" width="16.8" height="10.0" fill="#e7bcc5"/>
<line x1="420.7" y1="432.5" x2="420.7" y2="451.8" stroke="#111" stroke-width="1.4" />
<line x1="420.7" y1="461.8" x2="420.7" y2="472.8" stroke="#111" stroke-width="1.4" />
<line x1="416.2" y1="432.5" x2="425.2" y2="432.5" stroke="#111" stroke-width="1.4" />
<line x1="416.2" y1="472.8" x2="425.2" y2="472.8" stroke="#111" stroke-width="1.4" />
<line x1="412.3" y1="458.0" x2="429.09999999999997" y2="458.0" stroke="#111" stroke-width="2.0" />
<circle cx="422.2" cy="432.5" r="2.3" fill="#a8002a" stroke="#fff" stroke-opacity="0.55" stroke-width="0.8"/>
<circle cx="419.2" cy="444.6" r="2.3" fill="#a8002a" stroke="#fff" stroke-opacity="0.55" stroke-width="0.8"/>
<circle cx="422.3" cy="447.7" r="2.3" fill="#a8002a" stroke="#fff" stroke-opacity="0.55" stroke-width="0.8"/>
<circle cx="425" cy="450" r="2.3" fill="#a8002a" stroke="#fff" stroke-opacity="0.55" stroke-width="0.8"/>
<circle cx="419.2" cy="450" r="2.3" fill="#a8002a" stroke="#fff" stroke-opacity="0.55" stroke-width="0.8"/>
<circle cx="416.3" cy="451.9" r="2.3" fill="#a8002a" stroke="#fff" stroke-opacity="0.55" stroke-width="0.8"/>
<circle cx="413.5" cy="456.9" r="2.3" fill="#a8002a" stroke="#fff" stroke-opacity="0.55" stroke-width="0.8"/>
<circle cx="416.2" cy="456.2" r="2.3" fill="#a8002a" stroke="#fff" stroke-opacity="0.55" stroke-width="0.8"/>
<circle cx="425" cy="455.8" r="2.3" fill="#a8002a" stroke="#fff" stroke-opacity="0.55" stroke-width="0.8"/>
<circle cx="427.7" cy="457.9" r="2.3" fill="#a8002a" stroke="#fff" stroke-opacity="0.55" stroke-width="0.8"/>
<circle cx="420" cy="459.2" r="2.3" fill="#a8002a" stroke="#fff" stroke-opacity="0.55" stroke-width="0.8"/>
<circle cx="422.7" cy="460" r="2.3" fill="#a8002a" stroke="#fff" stroke-opacity="0.55" stroke-width="0.8"/>
<circle cx="416.2" cy="462.3" r="2.3" fill="#a8002a" stroke="#fff" stroke-opacity="0.55" stroke-width="0.8"/>
<circle cx="425" cy="461.5" r="2.3" fill="#a8002a" stroke="#fff" stroke-opacity="0.55" stroke-width="0.8"/>
<circle cx="421.2" cy="464.2" r="2.3" fill="#a8002a" stroke="#fff" stroke-opacity="0.55" stroke-width="0.8"/>
<circle cx="422.3" cy="466.9" r="2.3" fill="#a8002a" stroke="#fff" stroke-opacity="0.55" stroke-width="0.8"/>
<circle cx="419.2" cy="468.5" r="2.3" fill="#a8002a" stroke="#fff" stroke-opacity="0.55" stroke-width="0.8"/>
<circle cx="421.9" cy="471.5" r="2.3" fill="#a8002a" stroke="#fff" stroke-opacity="0.55" stroke-width="0.8"/>
<circle cx="419.6" cy="473" r="2.3" fill="#a8002a" stroke="#fff" stroke-opacity="0.55" stroke-width="0.8"/>
<rect x="448.65" y="443.3" width="16.5" height="11.599999999999966" fill="#e7bcc5"/>
<line x1="456.9" y1="436.5" x2="456.9" y2="443.3" stroke="#111" stroke-width="1.4" />
<line x1="456.9" y1="454.9" x2="456.9" y2="461.9" stroke="#111" stroke-width="1.4" />
<line x1="452.4" y1="436.5" x2="461.4" y2="436.5" stroke="#111" stroke-width="1.4" />
<line x1="452.4" y1="461.9" x2="461.4" y2="461.9" stroke="#111" stroke-width="1.4" />
<line x1="448.65" y1="452.8" x2="465.15" y2="452.8" stroke="#111" stroke-width="2.0" />
<circle cx="456.7" cy="438" r="2.3" fill="#a8002a" stroke="#fff" stroke-opacity="0.55" stroke-width="0.8"/>
<circle cx="456.7" cy="445" r="2.3" fill="#a8002a" stroke="#fff" stroke-opacity="0.55" stroke-width="0.8"/>
<circle cx="449.7" cy="452.8" r="2.3" fill="#a8002a" stroke="#fff" stroke-opacity="0.55" stroke-width="0.8"/>
<circle cx="463.5" cy="452.8" r="2.3" fill="#a8002a" stroke="#fff" stroke-opacity="0.55" stroke-width="0.8"/>
<circle cx="456.7" cy="458.1" r="2.3" fill="#a8002a" stroke="#fff" stroke-opacity="0.55" stroke-width="0.8"/>
<circle cx="456.7" cy="461.9" r="2.3" fill="#a8002a" stroke="#fff" stroke-opacity="0.55" stroke-width="0.8"/>
<circle cx="456.7" cy="454.9" r="2.3" fill="#a8002a" stroke="#fff" stroke-opacity="0.55" stroke-width="0.8"/>
<polygon points="456.90,423.70 457.52,425.15 459.09,425.29 457.90,426.32 458.25,427.86 456.90,427.05 455.55,427.86 455.90,426.32 454.71,425.29 456.28,425.15" fill="#000"/>
<rect x="485.09999999999997" y="405.8" width="16.6" height="53.89999999999998" fill="#e7bcc5"/>
<line x1="493.4" y1="360.8" x2="493.4" y2="405.8" stroke="#111" stroke-width="1.4" />
<line x1="493.4" y1="459.7" x2="493.4" y2="472.8" stroke="#111" stroke-width="1.4" />
<line x1="488.9" y1="360.8" x2="497.9" y2="360.8" stroke="#111" stroke-width="1.4" />
<line x1="488.9" y1="472.8" x2="497.9" y2="472.8" stroke="#111" stroke-width="1.4" />
<line x1="485.09999999999997" y1="445.2" x2="501.7" y2="445.2" stroke="#111" stroke-width="2.0" />
<circle cx="493.3" cy="360.8" r="2.3" fill="#a8002a" stroke="#fff" stroke-opacity="0.55" stroke-width="0.8"/>
<circle cx="493.3" cy="370.4" r="2.3" fill="#a8002a" stroke="#fff" stroke-opacity="0.55" stroke-width="0.8"/>
<circle cx="493.3" cy="391.9" r="2.3" fill="#a8002a" stroke="#fff" stroke-opacity="0.55" stroke-width="0.8"/>
<circle cx="493.3" cy="396.2" r="2.3" fill="#a8002a" stroke="#fff" stroke-opacity="0.55" stroke-width="0.8"/>
<circle cx="493.3" cy="403.8" r="2.3" fill="#a8002a" stroke="#fff" stroke-opacity="0.55" stroke-width="0.8"/>
<circle cx="497.1" cy="403.8" r="2.3" fill="#a8002a" stroke="#fff" stroke-opacity="0.55" stroke-width="0.8"/>
<circle cx="493.3" cy="408.8" r="2.3" fill="#a8002a" stroke="#fff" stroke-opacity="0.55" stroke-width="0.8"/>
<circle cx="497.1" cy="408.8" r="2.3" fill="#a8002a" stroke="#fff" stroke-opacity="0.55" stroke-width="0.8"/>
<circle cx="493.3" cy="418.8" r="2.3" fill="#a8002a" stroke="#fff" stroke-opacity="0.55" stroke-width="0.8"/>
<circle cx="493.3" cy="420.3" r="2.3" fill="#a8002a" stroke="#fff" stroke-opacity="0.55" stroke-width="0.8"/>
<circle cx="493.3" cy="426.7" r="2.3" fill="#a8002a" stroke="#fff" stroke-opacity="0.55" stroke-width="0.8"/>
<circle cx="493.3" cy="429.5" r="2.3" fill="#a8002a" stroke="#fff" stroke-opacity="0.55" stroke-width="0.8"/>
<circle cx="493.2" cy="442.9" r="2.3" fill="#a8002a" stroke="#fff" stroke-opacity="0.55" stroke-width="0.8"/>
<circle cx="486.2" cy="449.6" r="2.3" fill="#a8002a" stroke="#fff" stroke-opacity="0.55" stroke-width="0.8"/>
<circle cx="489.2" cy="448" r="2.3" fill="#a8002a" stroke="#fff" stroke-opacity="0.55" stroke-width="0.8"/>
<circle cx="496.8" cy="448.9" r="2.3" fill="#a8002a" stroke="#fff" stroke-opacity="0.55" stroke-width="0.8"/>
<circle cx="500" cy="448" r="2.3" fill="#a8002a" stroke="#fff" stroke-opacity="0.55" stroke-width="0.8"/>
<circle cx="493.2" cy="452.8" r="2.3" fill="#a8002a" stroke="#fff" stroke-opacity="0.55" stroke-width="0.8"/>
<circle cx="493.2" cy="456" r="2.3" fill="#a8002a" stroke="#fff" stroke-opacity="0.55" stroke-width="0.8"/>
<circle cx="493.2" cy="462.7" r="2.3" fill="#a8002a" stroke="#fff" stroke-opacity="0.55" stroke-width="0.8"/>
<circle cx="486.2" cy="472" r="2.3" fill="#a8002a" stroke="#fff" stroke-opacity="0.55" stroke-width="0.8"/>
<circle cx="489.2" cy="469.8" r="2.3" fill="#a8002a" stroke="#fff" stroke-opacity="0.55" stroke-width="0.8"/>
<circle cx="493.2" cy="472" r="2.3" fill="#a8002a" stroke="#fff" stroke-opacity="0.55" stroke-width="0.8"/>
<circle cx="496.8" cy="470.7" r="2.3" fill="#a8002a" stroke="#fff" stroke-opacity="0.55" stroke-width="0.8"/>
<circle cx="500" cy="472.6" r="2.3" fill="#a8002a" stroke="#fff" stroke-opacity="0.55" stroke-width="0.8"/>
<polygon points="491.20,351.60 491.82,353.05 493.39,353.19 492.20,354.22 492.55,355.76 491.20,354.95 489.85,355.76 490.20,354.22 489.01,353.19 490.58,353.05" fill="#000"/>
<polygon points="495.60,351.60 496.22,353.05 497.79,353.19 496.60,354.22 496.95,355.76 495.60,354.95 494.25,355.76 494.60,354.22 493.41,353.19 494.98,353.05" fill="#000"/>
<line x1="73.2" y1="553.5" x2="73.2" y2="665.95" stroke="#000" stroke-width="1.6" />
<line x1="69.0" y1="665.2" x2="201.9" y2="665.2" stroke="#000" stroke-width="1.6" />
<line x1="69.0" y1="557.2" x2="73.2" y2="557.2" stroke="#000" stroke-width="1.4" />
<text x="64.5" y="561.1" font-size="11.2" text-anchor="end">150</text>
<line x1="69.0" y1="593.2" x2="73.2" y2="593.2" stroke="#000" stroke-width="1.4" />
<text x="64.5" y="597.1" font-size="11.2" text-anchor="end">100</text>
<line x1="69.0" y1="629.2" x2="73.2" y2="629.2" stroke="#000" stroke-width="1.4" />
<text x="64.5" y="633.1" font-size="11.2" text-anchor="end">50</text>
<line x1="69.0" y1="665.2" x2="73.2" y2="665.2" stroke="#000" stroke-width="1.4" />
<text x="64.5" y="669.1" font-size="11.2" text-anchor="end">0</text>
<line x1="86.8" y1="665.2" x2="86.8" y2="669.7" stroke="#000" stroke-width="1.4" />
<text x="86.8" y="683.9" font-size="11.1" text-anchor="middle">Control</text>
<line x1="122.0" y1="665.2" x2="122.0" y2="669.7" stroke="#000" stroke-width="1.4" />
<text x="122.0" y="683.9" font-size="11.1" text-anchor="middle">0.5</text>
<line x1="157.8" y1="665.2" x2="157.8" y2="669.7" stroke="#000" stroke-width="1.4" />
<text x="157.8" y="683.9" font-size="11.1" text-anchor="middle">5</text>
<line x1="188.9" y1="665.2" x2="188.9" y2="669.7" stroke="#000" stroke-width="1.4" />
<text x="188.9" y="683.9" font-size="11.1" text-anchor="middle">50</text>
<text x="120.05" y="544.9" font-size="13" text-anchor="start" textLength="35.2" lengthAdjust="spacingAndGlyphs">CKβ8</text>
<text x="137.7" y="702.7" font-size="13.8" text-anchor="middle" style="stroke-width:0.45px" textLength="94.5" lengthAdjust="spacingAndGlyphs">Concentration (ng/mL)</text>
<polyline points="86.8,593.3 122.0,601 157.8,612.8 188.9,658.9" fill="none" stroke="#1f3b80" stroke-width="1.6" stroke-linejoin="round"/>
<path d="M86.8,591.3 L88.5,593.3 L86.8,595.3 L85.1,593.3 Z" fill="#1f3b80"/>
<path d="M122.0,599.0 L123.7,601 L122.0,603.0 L120.3,601 Z" fill="#1f3b80"/>
<path d="M157.8,610.8 L159.5,612.8 L157.8,614.8 L156.10000000000002,612.8 Z" fill="#1f3b80"/>
<path d="M188.9,656.9 L190.6,658.9 L188.9,660.9 L187.20000000000002,658.9 Z" fill="#1f3b80"/>
<polyline points="86.8,593.3 122.0,594.8 157.8,602.7 188.9,637.1" fill="none" stroke="#a8143a" stroke-width="1.6" stroke-linejoin="round"/>
<path d="M84.5,591.5999999999999 L89.1,591.5999999999999 L86.8,595.5 Z" fill="#a8143a"/>
<path d="M119.7,593.0999999999999 L124.3,593.0999999999999 L122.0,597.0 Z" fill="#a8143a"/>
<path d="M155.5,601.0 L160.10000000000002,601.0 L157.8,604.9000000000001 Z" fill="#a8143a"/>
<path d="M186.6,635.4 L191.20000000000002,635.4 L188.9,639.3000000000001 Z" fill="#a8143a"/>
<polyline points="86.8,593.3 122.0,601 157.8,582.6 188.9,586.3" fill="none" stroke="#e4911b" stroke-width="1.6" stroke-linejoin="round"/>
<path d="M84.5,595.0 L89.1,595.0 L86.8,591.0999999999999 Z" fill="#e4911b"/>
<path d="M119.7,602.7 L124.3,602.7 L122.0,598.8 Z" fill="#e4911b"/>
<path d="M155.5,584.3000000000001 L160.10000000000002,584.3000000000001 L157.8,580.4 Z" fill="#e4911b"/>
<path d="M186.6,588.0 L191.20000000000002,588.0 L188.9,584.0999999999999 Z" fill="#e4911b"/>
<polyline points="86.8,593.3 122.0,588.8 157.8,577.3 188.9,589.3" fill="none" stroke="#5aa6de" stroke-width="1.6" stroke-linejoin="round"/>
<rect x="84.8" y="591.3" width="4.0" height="4.0" fill="#5aa6de"/>
<rect x="120.0" y="586.8" width="4.0" height="4.0" fill="#5aa6de"/>
<rect x="155.8" y="575.3" width="4.0" height="4.0" fill="#5aa6de"/>
<rect x="186.9" y="587.3" width="4.0" height="4.0" fill="#5aa6de"/>
<polyline points="86.8,593.3 122.0,590 157.8,614 188.9,607.8" fill="none" stroke="#5aab3f" stroke-width="1.6" stroke-linejoin="round"/>
<circle cx="86.8" cy="593.3" r="2.0" fill="#5aab3f"/>
<circle cx="122.0" cy="590" r="2.0" fill="#5aab3f"/>
<circle cx="157.8" cy="614" r="2.0" fill="#5aab3f"/>
<circle cx="188.9" cy="607.8" r="2.0" fill="#5aab3f"/>
<line x1="244.3" y1="552.8" x2="244.3" y2="665.95" stroke="#000" stroke-width="1.6" />
<line x1="240.10000000000002" y1="665.2" x2="378.7" y2="665.2" stroke="#000" stroke-width="1.6" />
<line x1="240.10000000000002" y1="557.2" x2="244.3" y2="557.2" stroke="#000" stroke-width="1.4" />
<text x="234.3" y="561.1" font-size="11.2" text-anchor="end">150</text>
<line x1="240.10000000000002" y1="593.2" x2="244.3" y2="593.2" stroke="#000" stroke-width="1.4" />
<text x="234.3" y="597.1" font-size="11.2" text-anchor="end">100</text>
<line x1="240.10000000000002" y1="629.2" x2="244.3" y2="629.2" stroke="#000" stroke-width="1.4" />
<text x="234.3" y="633.1" font-size="11.2" text-anchor="end">50</text>
<line x1="240.10000000000002" y1="665.2" x2="244.3" y2="665.2" stroke="#000" stroke-width="1.4" />
<text x="234.3" y="669.1" font-size="11.2" text-anchor="end">0</text>
<line x1="257.7" y1="665.2" x2="257.7" y2="669.7" stroke="#000" stroke-width="1.4" />
<text x="257.7" y="683.9" font-size="11.1" text-anchor="middle">Control</text>
<line x1="293.5" y1="665.2" x2="293.5" y2="669.7" stroke="#000" stroke-width="1.4" />
<text x="293.5" y="683.9" font-size="11.1" text-anchor="middle">0.5</text>
<line x1="329.4" y1="665.2" x2="329.4" y2="669.7" stroke="#000" stroke-width="1.4" />
<text x="329.4" y="683.9" font-size="11.1" text-anchor="middle">5</text>
<line x1="364.9" y1="665.2" x2="364.9" y2="669.7" stroke="#000" stroke-width="1.4" />
<text x="364.9" y="683.9" font-size="11.1" text-anchor="middle">50</text>
<text x="288.4" y="544.9" font-size="13" text-anchor="start" textLength="44.2" lengthAdjust="spacingAndGlyphs">CKβ8-1</text>
<text x="311.0" y="702.7" font-size="13.8" text-anchor="middle" style="stroke-width:0.45px" textLength="94.5" lengthAdjust="spacingAndGlyphs">Concentration (ng/mL)</text>
<polyline points="257.7,593.2 293.5,600.1 329.4,613.5 364.9,646.3" fill="none" stroke="#1f3b80" stroke-width="1.6" stroke-linejoin="round"/>
<path d="M257.7,591.2 L259.4,593.2 L257.7,595.2 L256.0,593.2 Z" fill="#1f3b80"/>
<path d="M293.5,598.1 L295.2,600.1 L293.5,602.1 L291.8,600.1 Z" fill="#1f3b80"/>
<path d="M329.4,611.5 L331.09999999999997,613.5 L329.4,615.5 L327.7,613.5 Z" fill="#1f3b80"/>
<path d="M364.9,644.3 L366.59999999999997,646.3 L364.9,648.3 L363.2,646.3 Z" fill="#1f3b80"/>
<polyline points="257.7,593.2 293.5,595.7 329.4,605.5 364.9,634.2" fill="none" stroke="#a8143a" stroke-width="1.6" stroke-linejoin="round"/>
<path d="M255.39999999999998,591.5 L260.0,591.5 L257.7,595.4000000000001 Z" fill="#a8143a"/>
<path d="M291.2,594.0 L295.8,594.0 L293.5,597.9000000000001 Z" fill="#a8143a"/>
<path d="M327.09999999999997,603.8 L331.7,603.8 L329.4,607.7 Z" fill="#a8143a"/>
<path d="M362.59999999999997,632.5 L367.2,632.5 L364.9,636.4000000000001 Z" fill="#a8143a"/>
<polyline points="257.7,593.2 293.5,578.4 329.4,587.0 364.9,591.0" fill="none" stroke="#e4911b" stroke-width="1.6" stroke-linejoin="round"/>
<path d="M255.39999999999998,594.9000000000001 L260.0,594.9000000000001 L257.7,591.0 Z" fill="#e4911b"/>
<path d="M291.2,580.1 L295.8,580.1 L293.5,576.1999999999999 Z" fill="#e4911b"/>
<path d="M327.09999999999997,588.7 L331.7,588.7 L329.4,584.8 Z" fill="#e4911b"/>
<path d="M362.59999999999997,592.7 L367.2,592.7 L364.9,588.8 Z" fill="#e4911b"/>
<polyline points="257.7,593.2 293.5,577.0 329.4,587.3 364.9,580.3" fill="none" stroke="#5aa6de" stroke-width="1.6" stroke-linejoin="round"/>
<rect x="255.7" y="591.2" width="4.0" height="4.0" fill="#5aa6de"/>
<rect x="291.5" y="575.0" width="4.0" height="4.0" fill="#5aa6de"/>
<rect x="327.4" y="585.3" width="4.0" height="4.0" fill="#5aa6de"/>
<rect x="362.9" y="578.3" width="4.0" height="4.0" fill="#5aa6de"/>
<polyline points="257.7,593.2 293.5,598.2 329.4,609.1 364.9,615.5" fill="none" stroke="#5aab3f" stroke-width="1.6" stroke-linejoin="round"/>
<circle cx="257.7" cy="593.2" r="2.0" fill="#5aab3f"/>
<circle cx="293.5" cy="598.2" r="2.0" fill="#5aab3f"/>
<circle cx="329.4" cy="609.1" r="2.0" fill="#5aab3f"/>
<circle cx="364.9" cy="615.5" r="2.0" fill="#5aab3f"/>
<text transform="translate(20.8,606.0) rotate(-90)" x="0" y="0" font-size="13.4" text-anchor="middle" style="stroke-width:0.45px" textLength="123.6" lengthAdjust="spacingAndGlyphs">Fold change in number of CFUs</text>
<text transform="translate(36.4,610.7) rotate(-90)" x="0" y="0" font-size="13.4" text-anchor="middle" style="stroke-width:0.45px" textLength="103.7" lengthAdjust="spacingAndGlyphs">compared to control (%)</text>
<line x1="391.5" y1="577.3" x2="403.1" y2="577.3" stroke="#5aab3f" stroke-width="1.8" />
<circle cx="397.3" cy="577.3" r="2.0" fill="#5aab3f"/>
<text x="407.6" y="580.9" font-size="10.6" text-anchor="start">BFU-E</text>
<line x1="391.5" y1="593.13" x2="403.1" y2="593.13" stroke="#5aa6de" stroke-width="1.8" />
<rect x="395.3" y="591.13" width="4.0" height="4.0" fill="#5aa6de"/>
<text x="407.6" y="596.73" font-size="10.6" text-anchor="start">CFU-G</text>
<line x1="391.5" y1="608.9599999999999" x2="403.1" y2="608.9599999999999" stroke="#e4911b" stroke-width="1.8" />
<path d="M395.0,610.66 L399.6,610.66 L397.3,606.7599999999999 Z" fill="#e4911b"/>
<text x="407.6" y="612.56" font-size="10.6" text-anchor="start">CFU-M</text>
<line x1="391.5" y1="624.79" x2="403.1" y2="624.79" stroke="#a8143a" stroke-width="1.8" />
<path d="M395.0,623.0899999999999 L399.6,623.0899999999999 L397.3,626.99 Z" fill="#a8143a"/>
<text x="407.6" y="628.39" font-size="10.6" text-anchor="start">CFU-GM</text>
<line x1="391.5" y1="640.62" x2="403.1" y2="640.62" stroke="#1f3b80" stroke-width="1.8" />
<path d="M397.3,638.62 L399.0,640.62 L397.3,642.62 L395.6,640.62 Z" fill="#1f3b80"/>
<text x="407.6" y="644.22" font-size="10.6" text-anchor="start">CFU-GEMM</text>
<rect x="0.75" y="0.75" width="518.5" height="714.5" fill="none" stroke="#000" stroke-width="1.5"/>
</svg>
</body></html>
